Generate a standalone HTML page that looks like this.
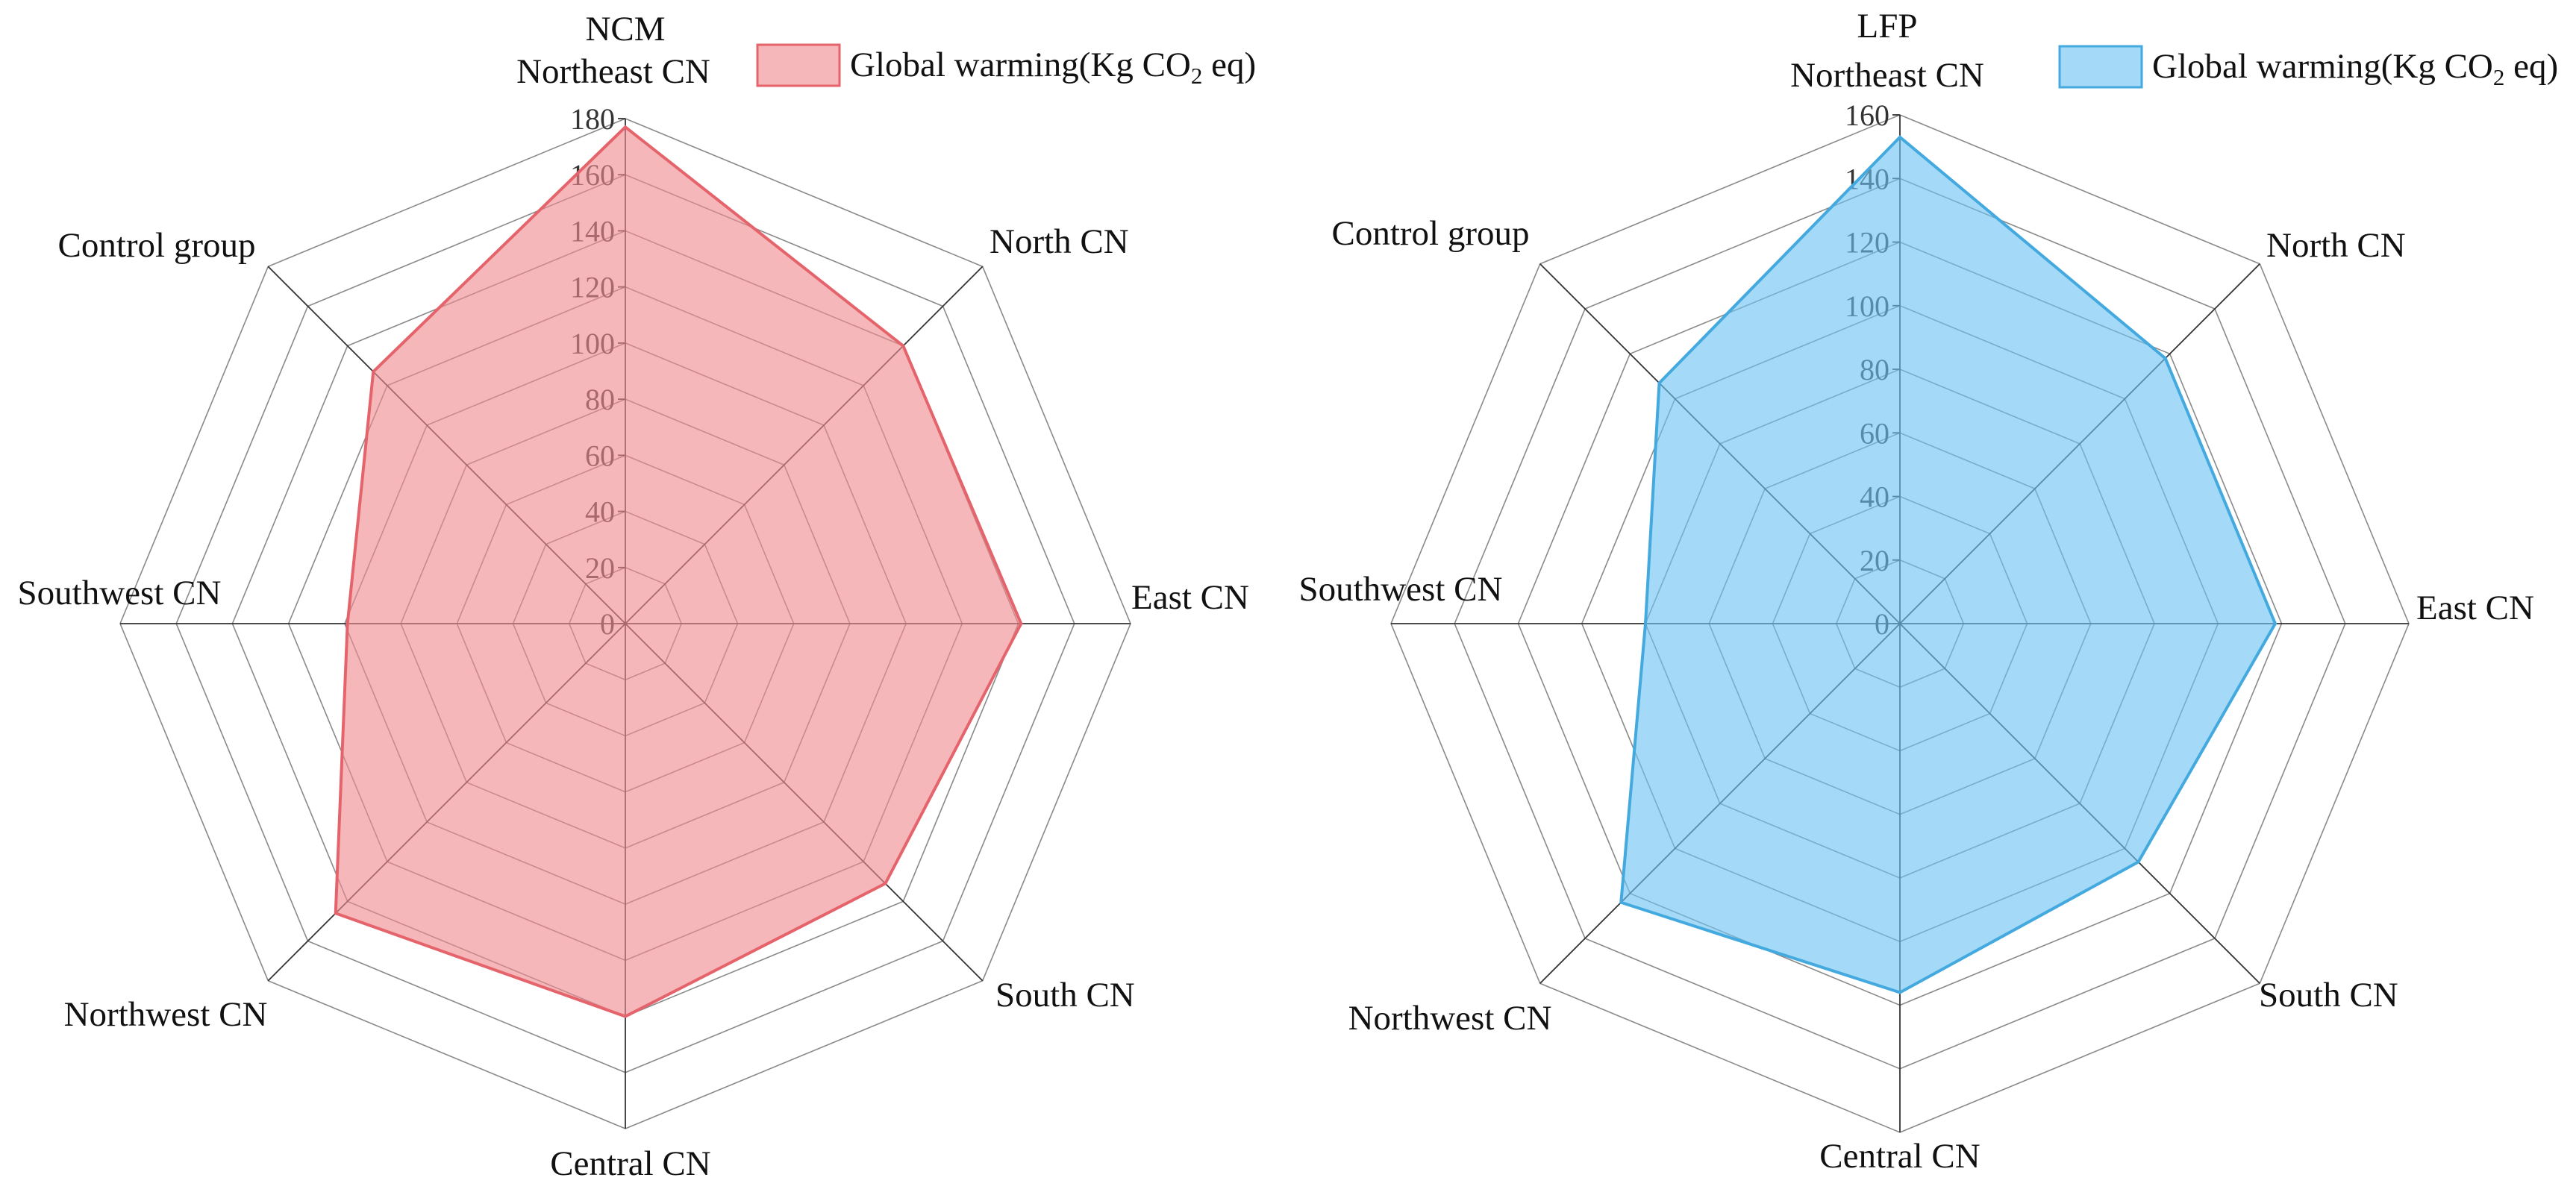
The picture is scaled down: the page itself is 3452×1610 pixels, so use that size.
<!DOCTYPE html>
<html><head><meta charset="utf-8"><style>
html,body{margin:0;padding:0;background:#fff;}
svg{display:block;font-family:"Liberation Serif",serif;}
</style></head><body>
<svg id="chart" width="3452" height="1610" viewBox="0 0 3452 1610" xmlns="http://www.w3.org/2000/svg">
<g id="left"></g>
<g id="right"></g>
</svg>
<script>
const categories = ["Northeast CN","North CN","East CN","South CN","Central CN","Northwest CN","Southwest CN","Control group"];
const ncmValues = [177, 140, 141, 131, 140, 146, 99, 127];
const lfpValues = [153, 118, 118, 106, 116, 124, 80, 107];
const ncmTicks = [0,20,40,60,80,100,120,140,160,180];
const lfpTicks = [0,20,40,60,80,100,120,140,160];
const NS = "http://www.w3.org/2000/svg";
function mk(tag, attrs, parent){const e=document.createElementNS(NS,tag);for(const k in attrs)e.setAttribute(k,attrs[k]);parent.appendChild(e);return e;}

function drawRadar(g, cfg){
  const {cx,cy,R,ticks,values,fill,stroke,title,labelPos,legendX,legendY,name} = cfg;
  const max = ticks[ticks.length-1];
  const n = categories.length;
  const ang = i => -Math.PI/2 + i*2*Math.PI/n;
  const pt = (i,v) => [cx + Math.cos(ang(i))*R*v/max, cy + Math.sin(ang(i))*R*v/max];
  ticks.forEach((t)=>{
    if(t===0) return;
    const pts = categories.map((c,i)=>pt(i,t).join(",")).join(" ");
    const r = mk("polygon",{points:pts,fill:"none",stroke:"#8a8a8a","stroke-width":1.6},g);
    
    
  });
  categories.forEach((c,i)=>{
    const [x,y] = pt(i,max);
    const l = mk("line",{x1:cx,y1:cy,x2:x,y2:y,stroke:"#333","stroke-width":1.8},g);
    
    
  });
  ticks.forEach(t=>{
    const y = cy - R*t/max;
    const tm = mk("line",{x1:cx-10,y1:y,x2:cx,y2:y,stroke:"#333","stroke-width":1.8},g);
    
    
    const tx = mk("text",{x:cx-14,y:y+14,"text-anchor":"end","font-size":40,fill:"#333"},g);
    tx.textContent = t;
    
    
  });
  const pts = values.map((v,i)=>pt(i,v).join(",")).join(" ");
  const poly = mk("polygon",{points:pts,fill:fill,"fill-opacity":0.62,stroke:stroke,"stroke-width":4,"stroke-linejoin":"miter"},g);
  
  
  categories.forEach((c,i)=>{
    const p = labelPos[i];
    const t = mk("text",{x:p[0],y:p[1],"text-anchor":p[2],"font-size":47,fill:"#111"},g);
    t.textContent = c;
    
    
  });
  const tt = mk("text",{x:title[1],y:title[2],"text-anchor":"middle","font-size":47,fill:"#111"},g);
  tt.textContent = title[0];
  
  
  const lg = mk("g",{},g);
  
  
  const sw = mk("rect",{x:legendX,y:legendY,width:110,height:55,fill:fill,"fill-opacity":0.62,stroke:stroke,"stroke-width":3},lg);
  
  
  const lt = mk("text",{x:legendX+124,y:legendY+42,"font-size":47,fill:"#111"},lg);
  lt.innerHTML = 'Global warming(Kg CO<tspan font-size="31" dy="10">2</tspan><tspan dy="-10"> eq)</tspan>';
  
  
}

drawRadar(document.getElementById('left'),{
  name:'ncm', cx:838, cy:836, R:677, ticks:ncmTicks, values:ncmValues,
  fill:"#f08a90", stroke:"#e5646c", title:["NCM",838,54],
  legendX:1015, legendY:60,
  labelPos:[[822,111,"middle"],[1326,339,"start"],[1516,816,"start"],[1334,1349,"start"],[845,1575,"middle"],[222,1375,"middle"],[160,810,"middle"],[210,344,"middle"]]
});
drawRadar(document.getElementById('right'),{
  name:'lfp', cx:2546, cy:836, R:682, ticks:lfpTicks, values:lfpValues,
  fill:"#6cc3f2", stroke:"#43a9de", title:["LFP",2529,50],
  legendX:2760, legendY:62,
  labelPos:[[2529,116,"middle"],[3037,344,"start"],[3238,830,"start"],[3027,1349,"start"],[2546,1565,"middle"],[1943,1380,"middle"],[1877,805,"middle"],[1917,328,"middle"]]
});
</script>
</body></html>
